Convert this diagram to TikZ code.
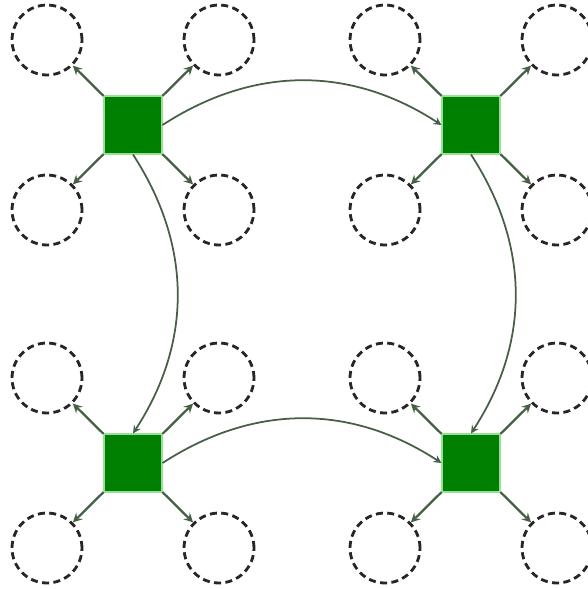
\documentclass[tikz,border=0pt]{standalone}
\usepackage{tikz}
\usetikzlibrary{shapes,arrows,calc}
\usepackage{xcolor}
\definecolor{hubgreen}{RGB}{0,128,0}
\definecolor{hubrim}{RGB}{150,225,150}
\definecolor{edgegray}{RGB}{70,95,70}

\begin{document}
\begin{tikzpicture}[
    x=0.02cm, y=-0.02cm,
    >=stealth,
    hub/.style={rectangle, fill=hubgreen, draw=hubrim, line width=0.6pt, minimum size=1.16cm, inner sep=0pt},
    leaf/.style={circle, draw=black!85, line width=1.6pt, dash pattern=on 4pt off 2.5pt, minimum size=1.4cm, inner sep=0pt},
    spoke/.style={->, draw=edgegray, line width=1.3pt},
    link/.style={->, draw=edgegray, line width=1pt, bend left=33}
]
    \useasboundingbox (0,0) rectangle (588,589);

    % Hubs
    \node[hub] (tl) at (133,125) {};
    \node[hub] (tr) at (471,125) {};
    \node[hub] (bl) at (133,463) {};
    \node[hub] (br) at (471,463) {};

    % Leaves
    \foreach \h in {tl,tr,bl,br} {
        \node[leaf] (\h-nw) at ($(\h)+(-86,-85)$) {};
        \node[leaf] (\h-ne) at ($(\h)+(86,-85)$) {};
        \node[leaf] (\h-sw) at ($(\h)+(-86,85)$) {};
        \node[leaf] (\h-se) at ($(\h)+(86,85)$) {};
    }

    % Spokes
    \foreach \h in {tl,tr,bl,br} {
        \foreach \l in {nw,ne,sw,se} {
            \draw[spoke] (\h) -- (\h-\l);
        }
    }

    % Links between hubs
    \draw[link] (tl.east) to (tr.west);
    \draw[link] (tl.south) to (bl.north);
    \draw[link] (tr.south) to (br.north);
    \draw[link] (bl.east) to (br.west);
\end{tikzpicture}
\end{document}
